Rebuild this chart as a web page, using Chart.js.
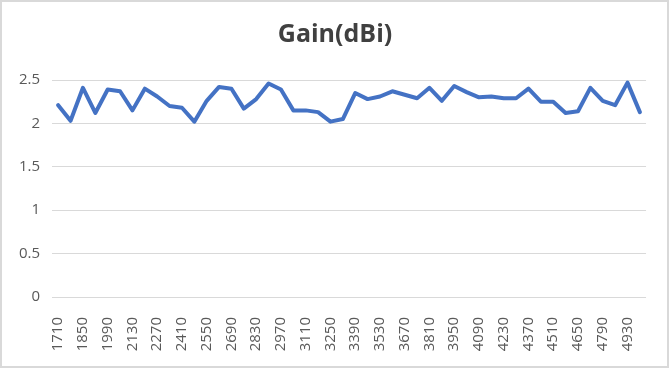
<!DOCTYPE html>
<html>
<head>
<meta charset="utf-8">
<script src="https://cdn.jsdelivr.net/npm/chart.js@4.4.1/dist/chart.umd.min.js"></script>
<style>
  html, body { margin: 0; padding: 0; background: #fff; }
  #wrap { position: relative; width: 670px; height: 369px; }
  #frame { position: absolute; left: 0; top: 0; width: 669px; height: 368px;
           box-sizing: border-box; border: 2px solid #d9d9d9; }
  #myChart { position: absolute; left: 0; top: 0; }
</style>
</head>
<body>
<div id="wrap">
  <div id="frame"></div>
  <canvas id="myChart" width="670" height="369"></canvas>
</div>
<script>
// frequency points (MHz)
var freqs = [1710, 1780, 1850, 1920, 1990, 2060, 2130, 2200, 2270, 2340,
             2410, 2480, 2550, 2620, 2690, 2760, 2830, 2900, 2970, 3040,
             3110, 3180, 3250, 3320, 3390, 3460, 3530, 3600, 3670, 3740,
             3810, 3880, 3950, 4020, 4090, 4160, 4230, 4300, 4370, 4440,
             4510, 4580, 4650, 4720, 4790, 4860, 4930, 5000];

// gain in dBi
var gain = [2.21, 2.03, 2.41, 2.12, 2.39, 2.37, 2.15, 2.40, 2.31, 2.20,
            2.18, 2.02, 2.26, 2.42, 2.40, 2.17, 2.28, 2.46, 2.39, 2.15,
            2.15, 2.13, 2.02, 2.05, 2.35, 2.28, 2.31, 2.37, 2.33, 2.29,
            2.41, 2.26, 2.43, 2.36, 2.30, 2.31, 2.29, 2.29, 2.40, 2.25,
            2.25, 2.12, 2.14, 2.41, 2.26, 2.21, 2.47, 2.13];

var yTicks = [0, 0.5, 1, 1.5, 2, 2.5];

var ctx = document.getElementById('myChart').getContext('2d');
var myChart = new Chart(ctx, {
    type: 'line',
    data: {
        labels: freqs,
        datasets: [{
            label: 'Gain(dBi)',
            data: gain,
            borderColor: '#4472C4',
            backgroundColor: '#4472C4',
            borderWidth: 4,
            borderJoinStyle: 'round',
            borderCapStyle: 'round',
            pointRadius: 0,
            tension: 0
        }]
    },
    options: {
        responsive: false,
        animation: false,
        devicePixelRatio: 1,
        layout: { padding: { left: 13, right: 13, top: 0, bottom: 0 } },
        plugins: {
            legend: { display: false },
            tooltip: { enabled: false },
            title: {
                display: true,
                text: 'Gain(dBi)',
                color: '#404040',
                font: { family: 'Open Sans', size: 25, weight: 'bold' },
                padding: { top: 20, bottom: 30 }
            }
        },
        scales: {
            x: {
                offset: true,
                grid: { display: false },
                border: { display: false },
                ticks: {
                    autoSkip: false,
                    minRotation: 90,
                    maxRotation: 90,
                    padding: 12,
                    color: '#595959',
                    font: { family: 'Open Sans', size: 15 },
                    callback: function(val, i) {
                        return i % 2 === 0 ? freqs[i] : '';
                    }
                },
                afterFit: function(scale) { scale.height = 72; }
            },
            y: {
                min: yTicks[0],
                max: yTicks[yTicks.length - 1],
                grid: { color: '#d9d9d9', lineWidth: 1, drawTicks: false },
                border: { display: false },
                afterBuildTicks: function(scale) {
                    scale.ticks = yTicks.map(function(v) { return { value: v }; });
                },
                ticks: {
                    padding: 12,
                    color: '#595959',
                    font: { family: 'Open Sans', size: 15 },
                    callback: function(v) { return String(v); }
                },
                afterFit: function(scale) { scale.width = 39; }
            }
        }
    }
});
</script>
</body>
</html>
